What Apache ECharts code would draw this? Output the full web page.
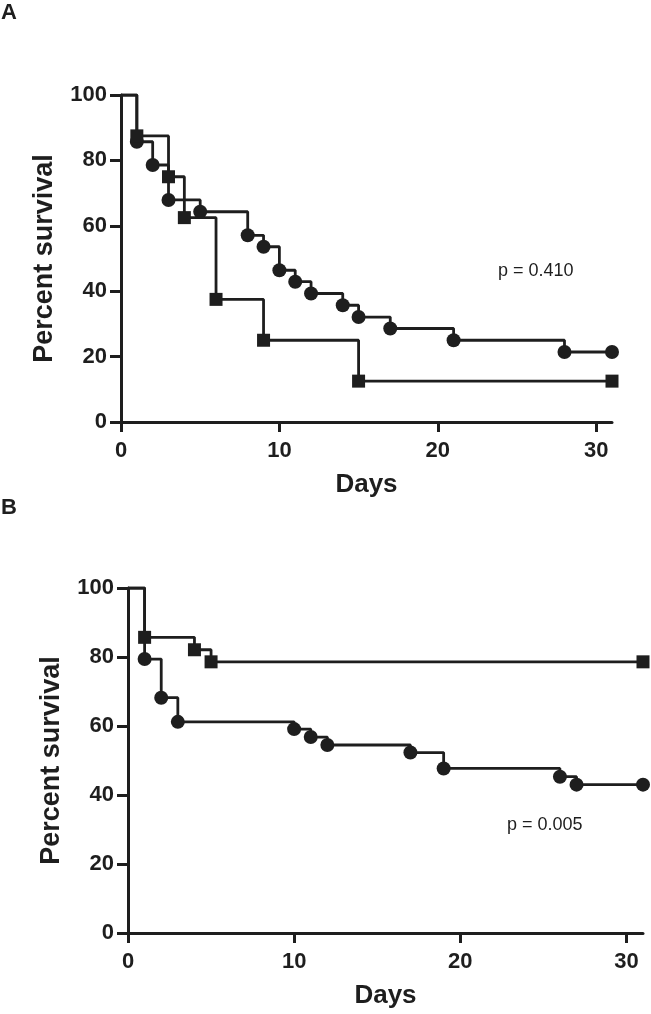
<!DOCTYPE html>
<html>
<head>
<meta charset="utf-8">
<script src="https://cdn.jsdelivr.net/npm/echarts@6/dist/echarts.min.js"></script>
<style>
  html, body { margin: 0; padding: 0; background: #ffffff; }
  #chart { width: 651px; height: 1014px; }
</style>
</head>
<body>
<div id="chart"></div>
<script>
// ---------- data ----------
const xTickValues = [0, 10, 20, 30];
const yTickValues = [0, 20, 40, 60, 80, 100];
const panelLabels = ['A', 'B'];
const pValues = ['p = 0.410', 'p = 0.005'];
const xAxisTitle = 'Days';
const yAxisTitle = 'Percent survival';

// Panel A
const aCircleDays = [0, 1, 2, 3, 5, 8, 9, 10, 11, 12, 14, 15, 17, 21, 28, 31];
const aCircleSurv = [100, 85.7, 78.6, 67.9, 64.3, 57.1, 53.6, 46.4, 42.9, 39.3, 35.7, 32.1, 28.6, 25.0, 21.4, 21.4];
const aSquareDays = [0, 1, 3, 4, 6, 9, 15, 31];
const aSquareSurv = [100, 87.5, 75.0, 62.5, 37.5, 25.0, 12.5, 12.5];

// Panel B
const bCircleDays = [0, 1, 2, 3, 10, 11, 12, 17, 19, 26, 27, 31];
const bCircleSurv = [100, 79.4, 68.2, 61.2, 59.1, 56.8, 54.5, 52.3, 47.7, 45.3, 43.0, 43.0];
const bSquareDays = [0, 1, 4, 5, 31];
const bSquareSurv = [100, 85.7, 82.1, 78.6, 78.6];

// ---------- styling ----------
const INK = '#1e1e1e';
const FONT = '"Liberation Sans", Arial, sans-serif';

function toPoints(days, surv) {
  return days.map((d, i) => {
    const item = { value: [d, surv[i]] };
    if (i === 0) item.symbol = 'none';
    return item;
  });
}

function makeX(gridIndex) {
  return {
    type: 'value', gridIndex, min: 0, max: 31, interval: 10,
    name: xAxisTitle, nameLocation: 'middle', nameGap: 50,
    nameTextStyle: { fontFamily: FONT, fontWeight: 'bold', fontSize: 26, color: INK },
    axisLine: { show: true, onZero: false, lineStyle: { color: INK, width: 3 } },
    axisTick: { show: true, length: 10, customValues: xTickValues, lineStyle: { color: INK, width: 3 } },
    axisLabel: { customValues: xTickValues, margin: 18, fontFamily: FONT, fontWeight: 'bold', fontSize: 22, color: INK },
    splitLine: { show: false }
  };
}
function makeY(gridIndex) {
  return {
    type: 'value', gridIndex, min: 0, max: 100, interval: 20,
    name: yAxisTitle, nameLocation: 'middle', nameGap: 63, nameRotate: 90,
    nameTextStyle: { fontFamily: FONT, fontWeight: 'bold', fontSize: 27, color: INK },
    axisLine: { show: true, onZero: false, lineStyle: { color: INK, width: 3 } },
    axisTick: { show: true, length: 11, lineStyle: { color: INK, width: 3 } },
    axisLabel: { margin: 14, fontFamily: FONT, fontWeight: 'bold', fontSize: 22, color: INK },
    splitLine: { show: false }
  };
}
function km(name, idx, days, surv, symbol, size) {
  return {
    name, type: 'line', xAxisIndex: idx, yAxisIndex: idx, step: 'end',
    data: toPoints(days, surv),
    symbol, symbolSize: size, showAllSymbol: true,
    lineStyle: { color: INK, width: 2.8 },
    itemStyle: { color: INK, borderWidth: 0 },
    emphasis: { disabled: true },
    z: symbol === 'rect' ? 3 : 2
  };
}

const chart = echarts.init(document.getElementById('chart'), null, { renderer: 'canvas' });
chart.setOption({
  animation: false,
  backgroundColor: '#ffffff',
  grid: [
    { left: 121, top: 95, width: 491, height: 327, outerBoundsMode: 'none', containLabel: false },
    { left: 128, top: 588, width: 515, height: 345, outerBoundsMode: 'none', containLabel: false }
  ],
  xAxis: [makeX(0), makeX(1)],
  yAxis: [makeY(0), makeY(1)],
  series: [
    km('A circles', 0, aCircleDays, aCircleSurv, 'circle', 14),
    km('A squares', 0, aSquareDays, aSquareSurv, 'rect', 13),
    km('B circles', 1, bCircleDays, bCircleSurv, 'circle', 14),
    km('B squares', 1, bSquareDays, bSquareSurv, 'rect', 13)
  ],
  graphic: [
    { type: 'text', left: 1, top: 2, style: { text: panelLabels[0], font: 'bold 22px ' + FONT, fill: INK } },
    { type: 'text', left: 1, top: 497, style: { text: panelLabels[1], font: 'bold 22px ' + FONT, fill: INK } },
    { type: 'text', left: 498, top: 262, style: { text: pValues[0], font: '18px ' + FONT, fill: INK } },
    { type: 'text', left: 507, top: 816, style: { text: pValues[1], font: '18px ' + FONT, fill: INK } }
  ]
});
</script>
</body>
</html>
